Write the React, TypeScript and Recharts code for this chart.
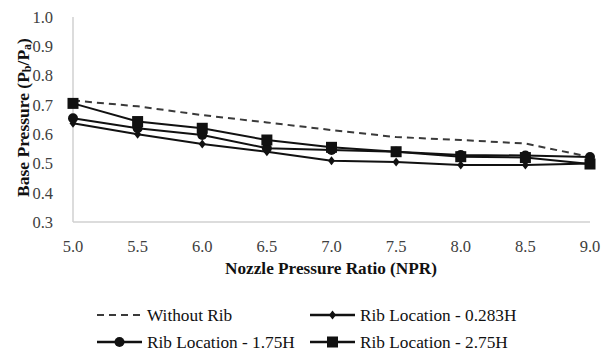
import React from 'react';
import { Line, LineChart, XAxis, YAxis } from 'recharts';

const npr = [5.0, 5.5, 6.0, 6.5, 7.0, 7.5, 8.0, 8.5, 9.0];
const withoutRib = [0.715, 0.695, 0.665, 0.64, 0.614, 0.59, 0.58, 0.568, 0.522];
const rib0283 = [0.637, 0.6, 0.566, 0.54, 0.509, 0.505, 0.495, 0.495, 0.5];
const rib175 = [0.654, 0.62, 0.597, 0.552, 0.546, 0.54, 0.529, 0.527, 0.522];
const rib275 = [0.705, 0.643, 0.62, 0.58, 0.555, 0.54, 0.523, 0.52, 0.498];

const xTicks = [5.0, 5.5, 6.0, 6.5, 7.0, 7.5, 8.0, 8.5, 9.0];
const yTicks = [0.3, 0.4, 0.5, 0.6, 0.7, 0.8, 0.9, 1.0];

const data = npr.map((x, i) => ({
    npr: x,
    withoutRib: withoutRib[i],
    rib0283: rib0283[i],
    rib175: rib175[i],
    rib275: rib275[i],
}));

const FONT = 'Liberation Serif';
const INK = '#111111';

type Shape = 'none' | 'diamond' | 'circle' | 'square';

function Marker({ cx, cy, shape }: { cx: number; cy: number; shape: Shape }) {
    if (shape === 'diamond') {
        return <polygon points={`${cx},${cy - 4.5} ${cx + 3.5},${cy} ${cx},${cy + 4.5} ${cx - 3.5},${cy}`} fill={INK} />;
    }
    if (shape === 'circle') {
        return <circle cx={cx} cy={cy} r={5} fill={INK} />;
    }
    if (shape === 'square') {
        return <rect x={cx - 5.5} y={cy - 5.5} width={11} height={11} fill={INK} />;
    }
    return null;
}

const dotFor = (shape: Shape) => (props: any) => (
    <Marker key={`${shape}-${props.index}`} cx={props.cx} cy={props.cy} shape={shape} />
);

// rotated axis title with P_b / P_a subscripts
function YTitle({ viewBox }: any) {
    const cx = 23;
    const cy = viewBox.y + viewBox.height / 2 - 2;
    return (
        <text
            x={cx}
            y={cy}
            transform={`rotate(-90, ${cx}, ${cy})`}
            textAnchor="middle"
            dominantBaseline="central"
            fontFamily={FONT}
            fontSize={17.5}
            fontWeight="bold"
            fill={INK}
        >
            Base Pressure (P
            <tspan fontSize={12} dy={4}>b</tspan>
            <tspan dy={-4}>/P</tspan>
            <tspan fontSize={12} dy={4}>a</tspan>
            <tspan dy={-4}>)</tspan>
        </text>
    );
}

const legendItems: { name: string; shape: Shape; dashed: boolean; x: number; y: number }[] = [
    { name: 'Without Rib', shape: 'none', dashed: true, x: 97, y: 315 },
    { name: 'Rib Location - 0.283H', shape: 'diamond', dashed: false, x: 310, y: 315 },
    { name: 'Rib Location - 1.75H', shape: 'circle', dashed: false, x: 97, y: 342 },
    { name: 'Rib Location - 2.75H', shape: 'square', dashed: false, x: 310, y: 342 },
];

function ChartLegend() {
    const len = 45;
    return (
        <svg width={602} height={352} style={{ position: 'absolute', left: 0, top: 0, pointerEvents: 'none' }}>
            {legendItems.map((item) => (
                <g key={item.name}>
                    <line
                        x1={item.x}
                        x2={item.x + len}
                        y1={item.y}
                        y2={item.y}
                        stroke={item.dashed ? '#3a3a3a' : INK}
                        strokeWidth={item.dashed ? 2 : 2.5}
                        strokeDasharray={item.dashed ? '7 5' : undefined}
                    />
                    <Marker cx={item.x + len / 2} cy={item.y} shape={item.shape} />
                    <text
                        x={item.x + len + 5}
                        y={item.y}
                        dominantBaseline="central"
                        fontFamily={FONT}
                        fontSize={17.3}
                        fill={INK}
                    >
                        {item.name}
                    </text>
                </g>
            ))}
            <text
                x={331}
                y={268}
                textAnchor="middle"
                dominantBaseline="central"
                fontFamily={FONT}
                fontSize={17.2}
                fontWeight="bold"
                fill={INK}
            >
                Nozzle Pressure Ratio (NPR)
            </text>
        </svg>
    );
}

export default function App() {
    const tick = { fontSize: 16.5, fill: '#404040', fontFamily: FONT };
    return (
        <div style={{ position: 'absolute', left: 0, top: 0, width: 602, height: 352, background: '#fff' }}>
            <LineChart width={602} height={352} data={data} margin={{ top: 17, right: 12, bottom: 0, left: 0 }}>
                <XAxis
                    dataKey="npr"
                    type="number"
                    domain={[5, 9]}
                    ticks={xTicks}
                    tickFormatter={(v: number) => v.toFixed(1)}
                    tick={tick}
                    tickLine={false}
                    axisLine={{ stroke: '#d0d0d0', strokeWidth: 1.5 }}
                    tickMargin={12}
                    height={130}
                    interval={0}
                />
                <YAxis
                    type="number"
                    domain={[0.3, 1.0]}
                    ticks={yTicks}
                    tickFormatter={(v: number) => v.toFixed(1)}
                    tick={tick}
                    tickLine={false}
                    axisLine={{ stroke: '#d0d0d0', strokeWidth: 1.5 }}
                    tickMargin={14}
                    width={73}
                    interval={0}
                    label={<YTitle />}
                />
                <Line
                    dataKey="withoutRib"
                    type="linear"
                    stroke="#3a3a3a"
                    strokeWidth={2}
                    strokeDasharray="7 5"
                    dot={false}
                    isAnimationActive={false}
                />
                <Line
                    dataKey="rib0283"
                    type="linear"
                    stroke={INK}
                    strokeWidth={2}
                    dot={dotFor('diamond')}
                    isAnimationActive={false}
                />
                <Line
                    dataKey="rib175"
                    type="linear"
                    stroke={INK}
                    strokeWidth={2}
                    dot={dotFor('circle')}
                    isAnimationActive={false}
                />
                <Line
                    dataKey="rib275"
                    type="linear"
                    stroke={INK}
                    strokeWidth={2}
                    dot={dotFor('square')}
                    isAnimationActive={false}
                />
            </LineChart>
            <ChartLegend />
        </div>
    );
}
